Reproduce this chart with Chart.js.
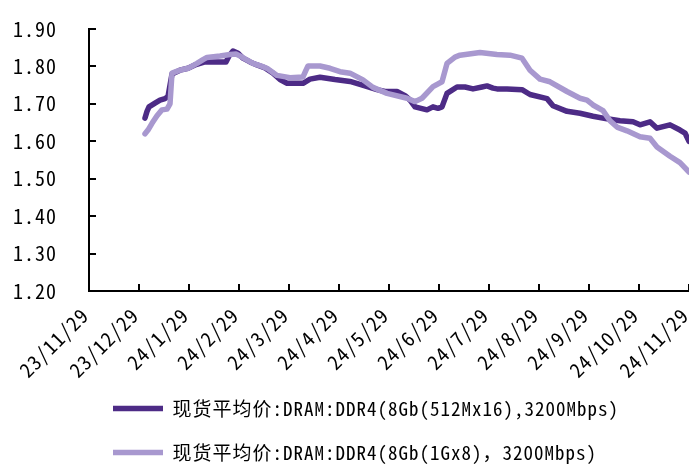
<!DOCTYPE html>
<html>
<head>
<meta charset="utf-8">
<script src="https://cdn.jsdelivr.net/npm/chart.js@4.4.1/dist/chart.umd.min.js"></script>
<style>
  body { margin: 0; background: #fff; }
</style>
</head>
<body>
<canvas id="chart" width="689" height="466"></canvas>
<script>
// x axis labels, one per month (positions 0..12)
const tickLabels = ['23/11/29', '23/12/29', '24/1/29', '24/2/29', '24/3/29', '24/4/29', '24/5/29',
    '24/6/29', '24/7/29', '24/8/29', '24/9/29', '24/10/29', '24/11/29'];

const seriesNames = [
    '现货平均价:DRAM:DDR4(8Gb(512Mx16),3200Mbps)',
    '现货平均价:DRAM:DDR4(8Gb(1Gx8)，3200Mbps)'
];

// 512Mx16 - position in months since 23/11/29, and price
const darkPos = [1.12, 1.16, 1.20, 1.32, 1.42, 1.52, 1.58, 1.66, 1.82, 1.98,
    2.14, 2.32, 2.52, 2.74, 2.80, 2.88, 2.98, 3.08, 3.22, 3.36,
    3.52, 3.68, 3.82, 3.96, 4.28, 4.42, 4.62, 4.92, 5.22, 5.42,
    5.76, 5.92, 6.16, 6.32, 6.42, 6.52, 6.76, 6.88, 6.98, 7.06,
    7.16, 7.36, 7.52, 7.68, 7.86, 7.96, 8.08, 8.16, 8.36, 8.66,
    8.82, 9.16, 9.28, 9.56, 9.82, 10.08, 10.36, 10.62, 10.88, 11.02,
    11.22, 11.36, 11.62, 11.82, 11.92, 12.00];
const darkVal = [1.662, 1.680, 1.692, 1.702, 1.710, 1.714, 1.720, 1.780, 1.790, 1.795,
    1.805, 1.812, 1.812, 1.812, 1.828, 1.841, 1.835, 1.822, 1.812, 1.804,
    1.796, 1.782, 1.765, 1.755, 1.755, 1.766, 1.771, 1.765, 1.760, 1.752,
    1.738, 1.733, 1.733, 1.722, 1.710, 1.692, 1.684, 1.692, 1.688, 1.692,
    1.728, 1.745, 1.745, 1.740, 1.745, 1.748, 1.742, 1.740, 1.740, 1.738,
    1.725, 1.714, 1.695, 1.680, 1.675, 1.667, 1.660, 1.655, 1.652, 1.644,
    1.652, 1.635, 1.644, 1.630, 1.622, 1.600];

// 1Gx8
const lightPos = [1.12, 1.18, 1.26, 1.36, 1.46, 1.56, 1.62, 1.66, 1.82, 1.98,
    2.16, 2.28, 2.36, 2.62, 2.82, 2.94, 3.02, 3.12, 3.28, 3.46,
    3.56, 3.76, 4.02, 4.28, 4.34, 4.38, 4.62, 4.82, 5.02, 5.22,
    5.48, 5.68, 5.96, 6.36, 6.52, 6.66, 6.88, 7.06, 7.16, 7.32,
    7.42, 7.82, 8.16, 8.42, 8.66, 8.82, 9.02, 9.22, 9.56, 9.82,
    9.96, 10.08, 10.28, 10.42, 10.56, 10.76, 11.02, 11.22, 11.36, 11.62,
    11.82, 12.00];
const lightVal = [1.620, 1.630, 1.648, 1.668, 1.684, 1.686, 1.700, 1.782, 1.790, 1.795,
    1.808, 1.818, 1.824, 1.828, 1.832, 1.833, 1.828, 1.820, 1.808, 1.800,
    1.795, 1.776, 1.770, 1.772, 1.790, 1.801, 1.801, 1.795, 1.786, 1.782,
    1.764, 1.744, 1.728, 1.715, 1.706, 1.715, 1.746, 1.759, 1.808, 1.825,
    1.830, 1.837, 1.832, 1.830, 1.822, 1.790, 1.766, 1.759, 1.733, 1.715,
    1.710, 1.697, 1.682, 1.655, 1.638, 1.628, 1.612, 1.608, 1.585, 1.560,
    1.543, 1.518];

const FONT = '"Noto Sans Mono CJK SC", "Noto Sans CJK SC", monospace';

// letter spacing so the half-width glyphs spread like the original
const spacing = {
    id: 'spacing',
    beforeLayout(chart) { chart.ctx.letterSpacing = '1px'; },
    beforeDraw(chart) { chart.ctx.letterSpacing = '1px'; }
};

// legend rows start at the same x, a bit right of centre.
// x labels hang below the axis box, so let them draw past its bottom edge
const boxTweaks = {
    id: 'boxTweaks',
    afterLayout(chart) {
        chart.legend.left = 88;
        chart.scales.x.bottom = chart.height;
    }
};

// tick marks pointing into the plot
const innerTicks = {
    id: 'innerTicks',
    afterDraw(chart) {
        const { ctx, chartArea, scales: { x, y } } = chart;
        ctx.save();
        ctx.strokeStyle = '#000';
        ctx.lineWidth = 2;
        ctx.beginPath();
        x.ticks.forEach(t => {
            const px = Math.round(x.getPixelForValue(t.value));
            ctx.moveTo(px, chartArea.bottom);
            ctx.lineTo(px, chartArea.bottom - 7);
        });
        y.ticks.forEach(t => {
            const py = Math.round(y.getPixelForValue(t.value));
            ctx.moveTo(chartArea.left, py);
            ctx.lineTo(chartArea.left + 7, py);
        });
        ctx.stroke();
        ctx.restore();
    }
};

const toPoints = (pos, val) => pos.map((p, i) => ({ x: p, y: val[i] }));

new Chart(document.getElementById('chart'), {
    type: 'line',
    data: {
        datasets: [{
            label: seriesNames[0],
            data: toPoints(darkPos, darkVal),
            borderColor: '#4d2b86',
            backgroundColor: '#4d2b86',
            borderWidth: 5.5,
            pointRadius: 0,
            borderJoinStyle: 'round',
            borderCapStyle: 'round',
            order: 1
        }, {
            label: seriesNames[1],
            data: toPoints(lightPos, lightVal),
            borderColor: '#a898cf',
            backgroundColor: '#a898cf',
            borderWidth: 5.5,
            pointRadius: 0,
            borderJoinStyle: 'round',
            borderCapStyle: 'round',
            order: 0
        }]
    },
    options: {
        responsive: false,
        animation: false,
        layout: { padding: { top: 29, left: 0, right: 0, bottom: 0 } },
        scales: {
            x: {
                type: 'linear',
                min: 0,
                max: 12,
                grid: { display: true, drawOnChartArea: false, drawTicks: false },
                border: { color: '#000', width: 2 },
                ticks: {
                    stepSize: 1,
                    autoSkip: false,
                    minRotation: 45,
                    maxRotation: 45,
                    padding: 12,
                    labelOffset: -4,
                    color: '#000',
                    font: { family: FONT, size: 20 },
                    callback: v => tickLabels[v]
                },
                afterFit: s => { s.height = 83; s.paddingRight = 0; s.paddingLeft = 0; }
            },
            y: {
                min: 1.2,
                max: 1.9,
                grid: { display: true, drawOnChartArea: false, drawTicks: false },
                border: { color: '#000', width: 2 },
                ticks: {
                    stepSize: 0.1,
                    padding: 32,
                    color: '#000',
                    font: { family: FONT, size: 20 },
                    callback: v => v.toFixed(2)
                },
                afterFit: s => { s.width = 89; s.paddingTop = 0; s.paddingBottom = 0; }
            }
        },
        plugins: {
            tooltip: { enabled: false },
            legend: {
                position: 'bottom',
                align: 'start',
                maxHeight: 92,
                labels: {
                    usePointStyle: true,
                    pointStyle: 'line',
                    pointStyleWidth: 50,
                    padding: 25,
                    color: '#000',
                    font: { family: FONT, size: 19 },
                    sort: (a, b) => a.datasetIndex - b.datasetIndex
                }
            }
        }
    },
    plugins: [spacing, boxTweaks, innerTicks]
});
</script>
</body>
</html>
